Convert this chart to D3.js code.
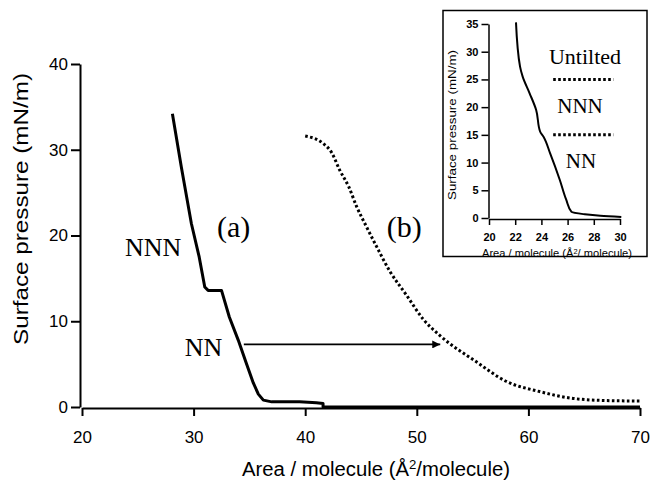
<!DOCTYPE html>
<html>
<head>
<meta charset="utf-8">
<script src="https://cdn.jsdelivr.net/npm/d3@7"></script>
<style>
  body { margin: 0; background: #fff; }
  svg text { fill: #000; }
</style>
</head>
<body>
<div id="chart"></div>
<script>
// isotherm (a) - solid, main panel
var aArea = [28.1, 28.9, 29.8, 30.5, 31.0, 31.3, 32.5, 33.2, 34.0, 34.7, 35.35, 35.8, 36.25, 37.0, 39.5, 41.0, 41.6, 41.6, 70];
var aPress = [34.2, 28.0, 21.4, 17.5, 14.0, 13.6, 13.6, 10.5, 7.8, 5.2, 2.8, 1.5, 0.8, 0.6, 0.6, 0.5, 0.4, 0, 0];

// isotherm (b) - dotted
var bArea = [40.0, 41.6, 42.4, 43.1, 43.9, 44.6, 45.5, 46.4, 47.6, 49.1, 50.6, 52.1, 55.3, 58.0, 61.0, 64.0, 67.0, 70.0];
var bPress = [31.6, 30.75, 29.6, 27.6, 25.7, 23.4, 21.0, 18.7, 15.8, 13.0, 10.2, 8.3, 5.3, 3.0, 1.8, 1.0, 0.75, 0.7];

// inset isotherm
var insetArea = [22.06, 22.37, 22.57, 23.1, 23.6, 23.9, 24.15, 24.66, 25.4, 25.9, 26.3, 27.2, 28.5, 30.1];
var insetPress = [35.3, 27.3, 25.5, 22.5, 19.5, 15.6, 14.7, 11.7, 6.9, 3.25, 1.1, 0.7, 0.4, 0.2];

var xTicks = [20, 30, 40, 50, 60, 70];
var yTicks = [0, 10, 20, 30, 40];
var insetXTicks = [20, 22, 24, 26, 28, 30];
var insetYTicks = [0, 5, 10, 15, 20, 25, 30, 35];
var insetPhaseBounds = [25, 15];

var svg = d3.select("#chart").append("svg")
    .attr("width", 650)
    .attr("height", 481);

// main scales
var x = d3.scaleLinear().domain([20, 70]).range([82, 640]);
var y = d3.scaleLinear().domain([0, 40]).range([407, 64]);

var line = d3.line().x(d => x(d[0])).y(d => y(d[1]));

// axes
var xAxis = svg.append("g")
    .attr("transform", "translate(0,408)")
    .call(d3.axisBottom(x).tickValues(xTicks).tickSize(8).tickSizeOuter(0).tickPadding(15));
var yAxis = svg.append("g")
    .attr("transform", "translate(80,0)")
    .call(d3.axisLeft(y).tickValues(yTicks).tickSize(9).tickSizeOuter(0).tickPadding(3));

[xAxis, yAxis].forEach(function (g) {
    g.selectAll("path, line").attr("stroke", "#000").attr("stroke-width", 2);
    g.selectAll("text")
        .attr("font-family", "Liberation Sans, Arial, sans-serif")
        .attr("font-size", 17)
        .attr("fill", "#000");
});

// axis titles
svg.append("text")
    .attr("x", 376).attr("y", 476)
    .attr("text-anchor", "middle")
    .attr("font-family", "Liberation Sans, Arial, sans-serif")
    .attr("font-size", 20)
    .attr("textLength", 268).attr("lengthAdjust", "spacingAndGlyphs")
    .html("Area / molecule (Å<tspan baseline-shift='super' font-size='13'>2</tspan>/molecule)");

svg.append("text")
    .attr("transform", "translate(28,209) rotate(-90)")
    .attr("text-anchor", "middle")
    .attr("font-family", "Liberation Sans, Arial, sans-serif")
    .attr("font-size", 20)
    .attr("textLength", 272).attr("lengthAdjust", "spacingAndGlyphs")
    .text("Surface pressure (mN/m)");

// curves
svg.append("path")
    .datum(d3.zip(bArea, bPress))
    .attr("d", line.curve(d3.curveMonotoneX))
    .attr("fill", "none")
    .attr("stroke", "#000")
    .attr("stroke-width", 3)
    .attr("stroke-dasharray", "2.6,2.4");

svg.append("path")
    .datum(d3.zip(aArea, aPress))
    .attr("d", d3.line().x(d => x(d[0])).y(d => y(d[1])))
    .attr("fill", "none")
    .attr("stroke", "#000")
    .attr("stroke-width", 3)
    .attr("stroke-linejoin", "round");

// arrow NN -> (b)
var arrowX = [34.5, 52.1], arrowY = 7.3;
svg.append("defs").append("marker")
    .attr("id", "head")
    .attr("viewBox", "0 0 10 10")
    .attr("refX", 10).attr("refY", 5)
    .attr("markerWidth", 16).attr("markerHeight", 8)
    .attr("markerUnits", "userSpaceOnUse")
    .attr("orient", "auto")
    .append("path").attr("d", "M0,0 L10,5 L0,10 Z").attr("fill", "#000");

svg.append("line")
    .attr("x1", x(arrowX[0])).attr("x2", x(arrowX[1]))
    .attr("y1", y(arrowY)).attr("y2", y(arrowY))
    .attr("stroke", "#000").attr("stroke-width", 1.6)
    .attr("marker-end", "url(#head)");

// annotations
var serif = "Liberation Serif, Times New Roman, serif";
var notes = [
    { t: "NNN", ax: 23.85, ay: 17.6, size: 26 },
    { t: "(a)", ax: 32.1, ay: 19.8, size: 30 },
    { t: "(b)", ax: 47.3, ay: 19.8, size: 30 },
    { t: "NN", ax: 29.2, ay: 5.95, size: 26 }
];
svg.selectAll("text.note")
    .data(notes).enter().append("text")
    .attr("class", "note")
    .attr("x", d => x(d.ax)).attr("y", d => y(d.ay))
    .attr("font-family", serif)
    .attr("font-size", d => d.size)
    .text(d => d.t);

// ---- inset ----
var inset = svg.append("g");
inset.append("rect")
    .attr("x", 443).attr("y", 10.5)
    .attr("width", 204).attr("height", 246)
    .attr("fill", "#fff")
    .attr("stroke", "#000").attr("stroke-width", 1.5);

var ix = d3.scaleLinear().domain([20, 30]).range([489, 620]);
var iy = d3.scaleLinear().domain([0, 35]).range([218, 24]);

var ixAxis = inset.append("g")
    .attr("transform", "translate(0,219)")
    .call(d3.axisBottom(ix).tickValues(insetXTicks).tickSize(6).tickSizeOuter(0).tickPadding(8));
var iyAxis = inset.append("g")
    .attr("transform", "translate(488.5,0)")
    .call(d3.axisLeft(iy).tickValues(insetYTicks).tickSize(7).tickSizeOuter(0).tickPadding(3));

[ixAxis, iyAxis].forEach(function (g) {
    g.selectAll("path, line").attr("stroke", "#000").attr("stroke-width", 1.5);
    g.selectAll("text")
        .attr("font-family", "Liberation Sans, Arial, sans-serif")
        .attr("font-size", 11)
        .attr("font-weight", "bold")
        .attr("fill", "#000");
});

inset.append("text")
    .attr("x", 557).attr("y", 257)
    .attr("text-anchor", "middle")
    .attr("font-family", "Liberation Sans, Arial, sans-serif")
    .attr("font-size", 10.5)
    .attr("textLength", 150).attr("lengthAdjust", "spacingAndGlyphs")
    .html("Area / molecule (Å<tspan baseline-shift='super' font-size='7'>2</tspan>/ molecule)");

inset.append("text")
    .attr("transform", "translate(456,125) rotate(-90)")
    .attr("text-anchor", "middle")
    .attr("font-family", "Liberation Sans, Arial, sans-serif")
    .attr("font-size", 11)
    .attr("textLength", 150).attr("lengthAdjust", "spacingAndGlyphs")
    .text("Surface pressure (mN/m)");

inset.append("path")
    .datum(d3.zip(insetArea, insetPress))
    .attr("d", d3.line().x(d => ix(d[0])).y(d => iy(d[1])).curve(d3.curveMonotoneY))
    .attr("fill", "none")
    .attr("stroke", "#000")
    .attr("stroke-width", 2);

inset.selectAll("line.bound")
    .data(insetPhaseBounds).enter().append("line")
    .attr("class", "bound")
    .attr("x1", ix(24.9)).attr("x2", ix(29.5))
    .attr("y1", d => iy(d)).attr("y2", d => iy(d))
    .attr("stroke", "#000").attr("stroke-width", 3)
    .attr("stroke-dasharray", "2.6,2.4");

var insetNotes = [
    { t: "Untilted", ax: 27.33, ay: 27.8, size: 22 },
    { t: "NNN", ax: 26.95, ay: 18.95, size: 21 },
    { t: "NN", ax: 27.02, ay: 9.0, size: 21 }
];
inset.selectAll("text.note")
    .data(insetNotes).enter().append("text")
    .attr("class", "note")
    .attr("x", d => ix(d.ax)).attr("y", d => iy(d.ay))
    .attr("text-anchor", "middle")
    .attr("font-family", serif)
    .attr("font-size", d => d.size)
    .text(d => d.t);
</script>
</body>
</html>
